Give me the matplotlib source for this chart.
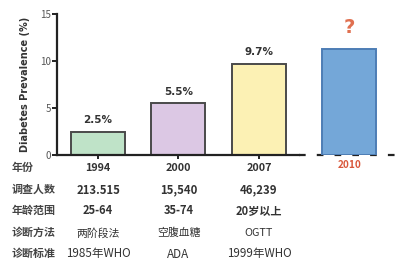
import matplotlib.pyplot as plt

plt.rcParams['font.family'] = ['Noto Sans CJK SC', 'DejaVu Sans']

years = ['1994', '2000', '2007']
prevalence = [2.5, 5.5, 9.7]
value_labels = ['2.5%', '5.5%', '9.7%']
future_year = '2010'
future_value = 11.3

row_names = ['年份', '调查人数', '年龄范围', '诊断方法', '诊断标准']
surveyed = ['213.515', '15,540', '46,239']
age_range = ['25-64', '35-74', '20岁以上']
method = ['两阶段法', '空腹血糖', 'OGTT']
criteria = ['1985年WHO', 'ADA', '1999年WHO']

colors = ['#bfe3c8', '#dcc8e4', '#fcf1b4']
text_c = '#333333'

W, H = 402, 261
fig = plt.figure(figsize=(W / 100, H / 100), dpi=100)
# axes: left spine at x=57px, baseline y=155px, top (15) at y=14px
ax = fig.add_axes([57 / W, (H - 155) / H, (W - 57) / W, (155 - 14) / H])
ax.set_xlim(-0.51, 3.78)
ax.set_ylim(0, 15)

xs = list(range(len(years)))
ax.bar(xs, prevalence, width=0.67, color=colors, edgecolor='#4a4a4a', linewidth=1.4, zorder=2)
x_future = 3.12
ax.bar([x_future], [future_value], width=0.68, color='#74a7d8', edgecolor='#4d7db5', linewidth=1.4, zorder=2)

for x, v, lab in zip(xs, prevalence, value_labels):
    ax.text(x, v + 0.7, lab, ha='center', va='bottom', fontsize=7.5, fontweight='bold',
            color=text_c, family=['DejaVu Sans'])
ax.text(x_future, future_value + 1.3, '?', ha='center', va='bottom', fontsize=14,
        fontweight='bold', color='#e07050', family=['DejaVu Sans'])

for s in ['top', 'right', 'bottom']:
    ax.spines[s].set_visible(False)
ax.spines['left'].set_linewidth(1.6)
ax.spines['left'].set_color('#222222')

# baseline: solid then dashed
ax.plot([-0.51, 2.5], [0, 0], color='#222222', lw=1.6, clip_on=False, zorder=3)
ax.plot([2.5, 3.78], [0, 0], color='#222222', lw=1.6, ls=(0, (3, 5)), clip_on=False, zorder=1)

ax.set_yticks([0, 5, 10, 15])
ax.tick_params(axis='y', length=3.5, width=1.4, color='#222222', labelsize=7,
               labelcolor='#555555', pad=1)
ax.set_xticks(xs)
ax.set_xticklabels([])
ax.tick_params(axis='x', length=3, width=1.4, color='#222222')

ax.set_ylabel('Diabetes Prevalence (%)', fontsize=7, fontweight='bold', color=text_c,
              family=['DejaVu Sans'], labelpad=7)

# table below the axis
def fx(x):
    return (57 + (x + 0.51) * 80.5) / W

row_y = [168, 190, 211, 233, 254]
rows = [years, surveyed, age_range, method, criteria]
weights = ['bold', 'bold', 'bold', 'normal', 'normal']
sizes = [7.8, 8.2, 8.0, 7.8, 8.4]
for name, yy in zip(row_names, row_y):
    fig.text(12 / W, 1 - yy / H, name, ha='left', va='center', fontsize=7.9,
             fontweight='bold', color='#444444')
for vals, yy, wt, fs in zip(rows, row_y, weights, sizes):
    for x, v in zip(xs, vals):
        fig.text(fx(x), 1 - yy / H, v, ha='center', va='center', fontsize=fs,
                 fontweight=wt, color=text_c)
fig.text(fx(x_future), 1 - 165 / H, future_year, ha='center', va='center', fontsize=7.2,
         fontweight='bold', color='#d9573b')

fig.savefig('out.png', dpi=100)
